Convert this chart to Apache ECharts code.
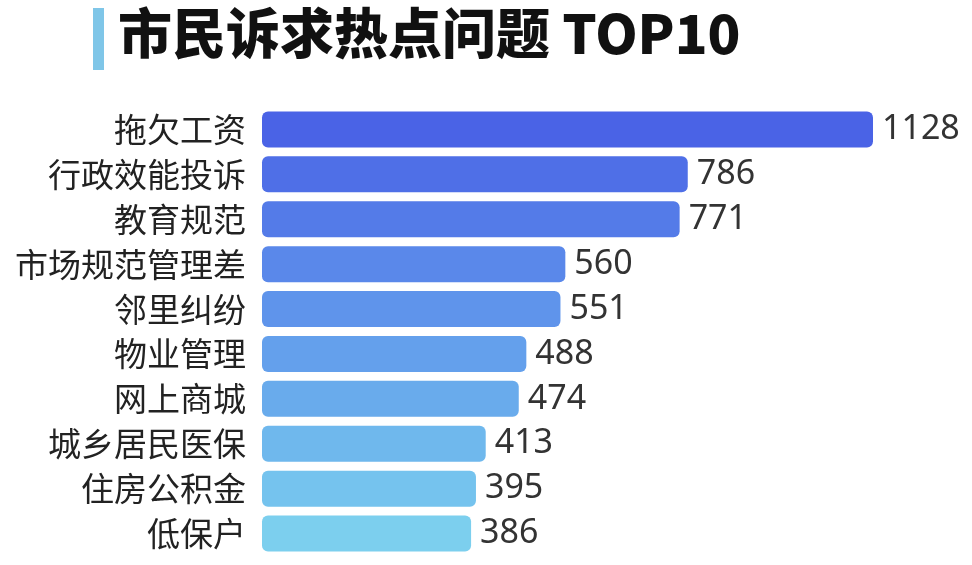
<!DOCTYPE html>
<html><head><meta charset="utf-8">
<script src="https://cdn.jsdelivr.net/npm/echarts@6/dist/echarts.min.js"></script>
<style>html,body{margin:0;background:#fff}#main{width:972px;height:565px}</style>
</head><body><div id="main"></div>
<script>
var categories = ['拖欠工资', '行政效能投诉', '教育规范', '市场规范管理差', '邻里纠纷', '物业管理', '网上商城', '城乡居民医保', '住房公积金', '低保户'];
var values = [1128, 786, 771, 560, 551, 488, 474, 413, 395, 386];
var barColors = ['#4a63e6', '#4f6fe7', '#547be8', '#5a88ea', '#5f94eb', '#64a0ec', '#69abec', '#6fb8ed', '#75c3ee', '#7ccfee'];

var chart = echarts.init(document.getElementById('main'));
var option = {
    animation: false,
    graphic: [
        { type: 'rect', shape: { x: 93, y: 8, width: 11, height: 62 }, style: { fill: '#7fc6e8' } },
        { type: 'text', left: 118, top: 6, style: { text: '市民诉求热点问题 TOP10', fill: '#111', font: '900 54px "Noto Sans CJK SC"' } }
    ],
    grid: { left: 262, right: 99, top: 107, bottom: 9 },
    xAxis: { type: 'value', min: 0, max: 1128, show: false },
    yAxis: {
        type: 'category',
        inverse: true,
        data: categories,
        axisLine: { show: false },
        axisTick: { show: false },
        axisLabel: { color: '#222', fontSize: 33, margin: 16, fontFamily: 'Noto Sans CJK SC' }
    },
    series: [{
        type: 'bar',
        barWidth: 36,
        data: values.map(function (v, i) {
            return { value: v, itemStyle: { color: barColors[i] } };
        }),
        itemStyle: { borderRadius: 6 },
        label: { show: true, position: 'right', distance: 9, color: '#333', fontSize: 34, fontFamily: 'Noto Sans' }
    }]
};
chart.setOption(option);
</script></body></html>
